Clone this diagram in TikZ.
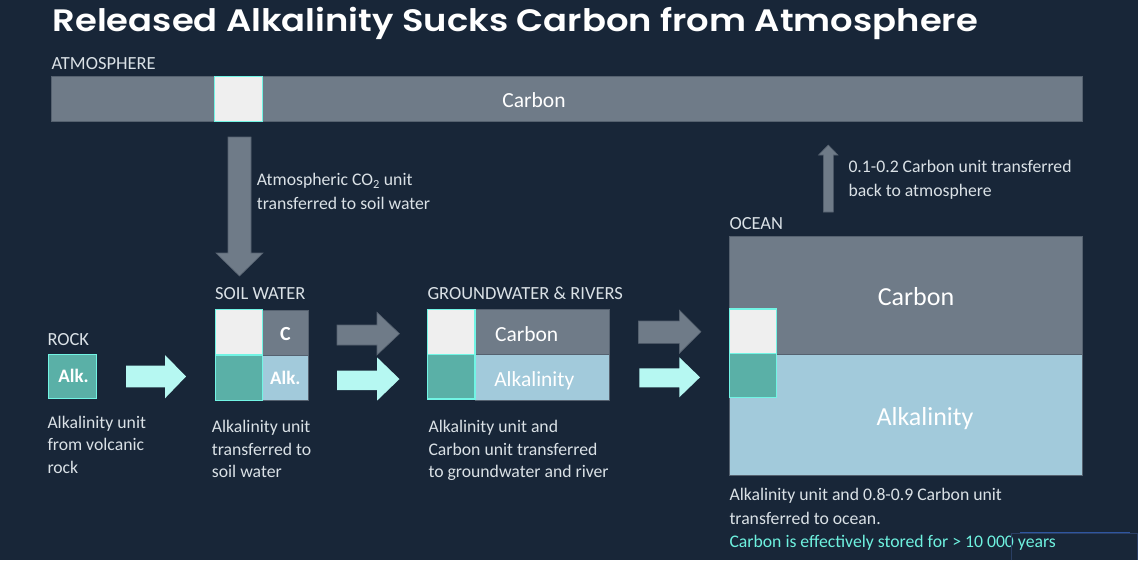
\documentclass[tikz,border=0pt]{standalone}
\usepackage{fontspec}
\setmainfont{Carlito}
\newfontfamily\titlefont{Poppins}[BoldFont={Poppins SemiBold}]
\definecolor{bg}{HTML}{182638}
\definecolor{gr}{HTML}{6F7B88}
\definecolor{grline}{HTML}{55616F}
\definecolor{wsq}{HTML}{EFEFEF}
\definecolor{cy}{HTML}{72F4E4}
\definecolor{tealsq}{HTML}{5AB0A7}
\definecolor{lb}{HTML}{A2CADB}
\definecolor{cyarrow}{HTML}{B6F8F2}
\definecolor{txt}{HTML}{DAE1E6}
\definecolor{cytxt}{HTML}{6EF1DF}
\definecolor{artline}{HTML}{2A3E63}
\definecolor{artblue}{HTML}{2F56A0}
\tikzset{
  box/.style={inner sep=0pt, outer sep=0pt, anchor=north west},
  unitC/.style={box, fill=wsq, draw=cy, line width=1.4pt},
  unitA/.style={box, fill=tealsq, draw=cy, line width=1.4pt},
  grband/.style={box, fill=gr, draw=grline, line width=0.7pt},
  lbband/.style={box, fill=lb, draw=grline, line width=0.7pt},
  garrow/.style={fill=gr, draw=grline, line width=0.6pt},
  carrow/.style={fill=cyarrow},
  ttl/.style={anchor=base west, inner sep=0pt, text=white, font=\titlefont\bfseries\fontsize{31}{36}\selectfont},
  lbl/.style={anchor=base west, inner sep=0pt, text=txt, font=\fontsize{18.5}{22}\selectfont},
  body/.style={anchor=base west, inner sep=0pt, text=txt, font=\fontsize{17.7}{22}\selectfont},
  cybody/.style={body, text=cytxt},
  intxt/.style={anchor=base, inner sep=0pt, text=white, font=\fontsize{21.5}{24}\selectfont},
  bigtxt/.style={anchor=base, inner sep=0pt, text=white, font=\fontsize{26}{28}\selectfont},
  smtxt/.style={anchor=base, inner sep=0pt, text=white, font=\bfseries\fontsize{19}{20}\selectfont},
}
\begin{document}
\begin{tikzpicture}[x=1pt,y=-1pt]
\fill[bg] (0,0) rectangle (1138,560);
\useasboundingbox (0,0) rectangle (1138,560);

% title
\node[ttl] (title) at (52.5,31.7) {\scalebox{1.14}[1]{Released Alkalinity Sucks Carbon from Atmosphere}};

% atmosphere
\node[lbl] (atmlbl) at (51.5,69) {ATMOSPHERE};
\node[grband, minimum width=1031pt, minimum height=45pt] (atmbar) at (51,76.5) {};
\node[unitC, minimum width=48pt, minimum height=45pt] (atmC) at (214.3,76.3) {};
\node[intxt] (atmtxt) at (534,107.5) {Carbon};

% down arrow
\fill[garrow] (228,137) -- (251,137) -- (251,253) -- (263,253) -- (239.5,276) -- (216,253) -- (228,253) -- cycle;
\node[body] (dntxt1) at (256.7,185.7) {Atmospheric CO\textsubscript{2} unit};
\node[body] (dntxt2) at (256.7,209.3) {transferred to soil water};

% rock
\node[lbl] (rocklbl) at (47.3,345.7) {ROCK};
\node[unitA, minimum width=48pt, minimum height=44pt] (rockA) at (48.5,354.3) {};
\node[smtxt] at ([xshift=1pt,yshift=-6.3pt]rockA.center) {Alk.};
\node[body] (rt1) at (47.3,428.3) {Alkalinity unit};
\node[body] (rt2) at (47.3,450.8) {from volcanic};
\node[body] (rt3) at (47.3,473.3) {rock};
\fill[carrow] (126,365.5) -- (165,365.5) -- (165,355) -- (186,376.5) -- (165,398.3) -- (165,387.3) -- (126,387.3) -- cycle;

% soil water
\node[lbl] (swlbl) at (215,299) {SOIL WATER};
\node[grband, minimum width=46pt, minimum height=45pt] (swCg) at (262.3,310.5) {};
\node[smtxt, font=\bfseries\fontsize{20}{22}\selectfont] at ([yshift=-7pt]swCg.center) {C};
\node[lbband, minimum width=46pt, minimum height=45pt] (swAl) at (262.3,355.5) {};
\node[smtxt] at ([yshift=-6.3pt]swAl.center) {Alk.};
\node[unitC, minimum width=47pt, minimum height=45.5pt] (swC) at (215.3,309.5) {};
\node[unitA, minimum width=47pt, minimum height=45.5pt] (swA) at (215.3,355) {};
\node[body] (st1) at (211.7,432) {Alkalinity unit};
\node[body] (st2) at (211.7,455) {transferred to};
\node[body] (st3) at (211.7,477) {soil water};

% arrows soil -> groundwater
\fill[garrow] (337,325) -- (377,325) -- (377,312.3) -- (399.5,333.7) -- (377,355) -- (377,345) -- (337,345) -- cycle;
\fill[carrow] (337,370.7) -- (377,370.7) -- (377,357.3) -- (399.5,379) -- (377,400.7) -- (377,390) -- (337,390) -- cycle;

% groundwater
\node[lbl] (gwlbl) at (427.3,299) {GROUNDWATER \& RIVERS};
\node[grband, minimum width=134.3pt, minimum height=45pt] (gwCband) at (475,309.3) {};
\node[lbband, minimum width=134.3pt, minimum height=46pt] (gwAband) at (475,354.3) {};
\node[unitC, minimum width=47.5pt, minimum height=45pt] (gwC) at (427.5,309.3) {};
\node[unitA, minimum width=47.5pt, minimum height=44.5pt] (gwA) at (427.5,354.3) {};
\node[intxt] (gwCt) at (526.7,341.7) {Carbon};
\node[intxt] (gwAt) at (534.3,386) {Alkalinity};
\node[body] (gt1) at (428.3,432) {Alkalinity unit and};
\node[body] (gt2) at (428.3,455) {Carbon unit transferred};
\node[body] (gt3) at (428.3,477) {to groundwater and river};

% arrows groundwater -> ocean
\fill[garrow] (638.5,321) -- (679.3,321) -- (679.3,310) -- (701,331.7) -- (679.3,353.3) -- (679.3,343.3) -- (638.5,343.3) -- cycle;
\fill[carrow] (639.3,368.3) -- (679.3,368.3) -- (679.3,357.3) -- (700,377.3) -- (679.3,397.3) -- (679.3,387.3) -- (639.3,387.3) -- cycle;

% ocean
\node[lbl] (oclbl) at (729.3,229) {OCEAN};
\node[grband, minimum width=353pt, minimum height=118.3pt] (ocC) at (729.3,236) {};
\node[lbband, minimum width=353pt, minimum height=120.7pt] (ocA) at (729.3,354.3) {};
\node[unitC, minimum width=47.3pt, minimum height=44.5pt] (ocCs) at (729.3,309) {};
\node[unitA, minimum width=47.3pt, minimum height=44.2pt] (ocAs) at (729.3,353.5) {};
\node[bigtxt] (ocCt) at (916,305) {Carbon};
\node[bigtxt] (ocAt) at (925,425.5) {Alkalinity};

% up arrow
\fill[garrow] (823.3,212) -- (823.3,155) -- (818.5,155) -- (828.3,145) -- (838,155) -- (833.3,155) -- (833.3,212) -- cycle;
\node[body] (ut1) at (848.3,172.7) {0.1-0.2 Carbon unit transferred};
\node[body] (ut2) at (848.3,196.7) {back to atmosphere};

% ocean text
\node[body] (ot1) at (729.3,500.7) {Alkalinity unit and 0.8-0.9 Carbon unit};
\node[body] (ot2) at (729.3,524.7) {transferred to ocean.};
\node[cybody] (ot3) at (729.3,547) {Carbon is effectively stored for > 10 000 years};

% faint selection artefact
\draw[artline, line width=0.7pt] (1011.7,560) -- (1011.7,533) -- (1137,533) -- (1137,560);
\draw[artblue, line width=1pt] (1020,532.5) -- (1130,532.5);
\end{tikzpicture}
\end{document}
